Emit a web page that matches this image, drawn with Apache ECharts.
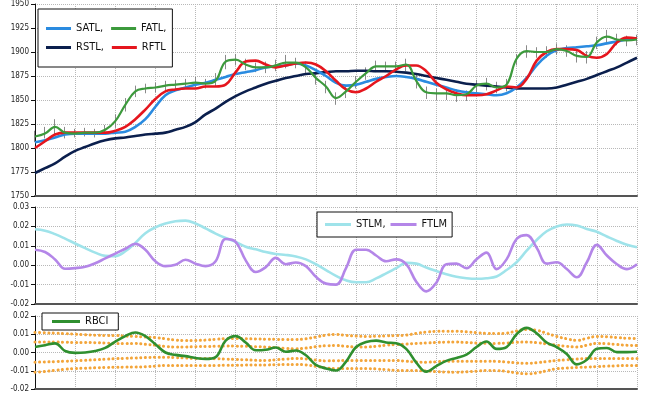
<!DOCTYPE html>
<html>
<head>
<meta charset="utf-8">
<script src="https://cdn.jsdelivr.net/npm/echarts@6/dist/echarts.min.js"></script>
<style>html,body{margin:0;padding:0;background:#fff}#c{width:650px;height:393px}</style>
</head>
<body>
<div id="c"></div>
<script>
// ---- data ----
const categories = Array.from({length: 61}, (_, i) => String(i + 1));

const rstl = [1774,1779,1784,1791,1797,1801,1805,1808,1810,1811,
  1812.5,1814,1815,1816,1819,1822,1827,1835,1841,1848,
  1854,1859,1863,1867,1870,1873,1875,1877,1878,1879,
  1880,1880,1880.5,1880.5,1880,1880,1879.5,1878.5,1877,1875,
  1873,1871,1869,1867,1866,1865,1864,1863,1862,1862,
  1862,1862,1863,1866,1869,1872,1876,1880,1884,1889,1894];
const satl = [1806,1808,1811,1814,1815,1815,1815,1815,1816,1817,
  1822,1830,1843,1855,1860,1863,1866,1868,1871,1874,
  1877,1879,1881,1884,1885,1886,1888,1886,1881,1875,
  1868,1865,1866,1869,1872,1874,1875,1874,1872,1869,
  1866,1863,1860,1858,1857,1856,1855,1857,1863,1873,
  1886,1896,1902,1904,1905,1906,1907,1909,1911,1913,1914];
const rftl = [1800,1807,1814,1816,1816,1816,1816,1816,1818,1822,
  1830,1840,1851,1859,1861,1862,1862,1864,1864,1866,
  1879,1890,1891,1887,1884,1886,1888,1889,1887,1880,
  1870,1861,1858,1862,1869,1875,1882,1886,1886,1880,
  1868,1861,1857,1855,1855,1856,1860,1864,1863,1872,
  1891,1900,1903,1903,1902,1896,1894,1898,1910,1915,1914];
const fatl = [1812,1815,1822,1816,1815,1816,1816,1819,1828,1845,
  1859,1862,1863,1865,1866,1867,1868,1867,1870,1890,
  1892,1887,1884,1884,1886,1889,1889,1884,1873,1864,
  1852,1859,1869,1878,1885,1885,1885,1887,1870,1858,
  1857,1857,1855,1856,1865,1867,1863,1866,1893,1901,
  1900,1900,1903,1901,1896,1895,1910,1916,1913,1912,1913];
const priceHigh = [1818,1822,1830,1822,1820,1821,1820,1824,1835,1852,
  1865,1867,1868,1870,1871,1872,1874,1872,1878,1897,
  1898,1893,1889,1890,1892,1897,1894,1890,1879,1870,
  1858,1865,1875,1884,1891,1890,1890,1893,1876,1864,
  1862,1863,1861,1860,1871,1873,1869,1872,1898,1907,
  1905,1906,1909,1907,1902,1901,1916,1923,1919,1917,1918];
const priceLow = [1806,1810,1814,1810,1811,1812,1811,1814,1821,1838,
  1853,1857,1858,1860,1861,1862,1863,1862,1864,1882,
  1886,1881,1879,1878,1880,1883,1883,1877,1866,1857,
  1845,1852,1862,1871,1879,1879,1878,1880,1862,1851,
  1850,1850,1848,1849,1858,1860,1857,1859,1886,1894,
  1894,1894,1897,1895,1889,1888,1903,1909,1907,1906,1907];

const stlm = [0.0185,0.0178,0.016,0.0137,0.0112,0.0088,0.0065,0.0048,0.0047,0.0072,
  0.0115,0.0165,0.0195,0.0215,0.0227,0.023,0.0215,0.019,0.0163,0.014,
  0.012,0.0095,0.0082,0.0068,0.0058,0.0053,0.0045,0.003,0.0005,-0.0025,
  -0.0055,-0.0078,-0.0088,-0.0088,-0.0068,-0.0042,-0.0015,0.0012,0.0008,-0.0012,
  -0.003,-0.0047,-0.006,-0.0067,-0.007,-0.0067,-0.0058,-0.0025,0.0015,0.0075,
  0.013,0.0175,0.02,0.021,0.0205,0.0187,0.0172,0.0148,0.0125,0.0105,0.0092];
const ftlm = [0.008,0.0068,0.003,-0.0018,-0.0015,-0.0008,0.001,0.0035,0.006,0.0085,
  0.011,0.008,0.002,-0.0005,0.0002,0.0028,0.0008,-0.0005,0.002,0.0135,
  0.012,0.0025,-0.0035,-0.001,0.0038,0.0005,0.0014,-0.0005,-0.006,-0.0095,
  -0.01,-0.0015,0.008,0.008,0.005,0.002,0.003,0.0005,-0.0085,-0.0135,
  -0.009,0.0005,0.0008,-0.0015,0.003,0.0065,-0.002,0.003,0.0135,0.0155,
  0.009,0.0008,0.0015,-0.002,-0.0062,0.0015,0.0105,0.005,0.0005,-0.002,0.0005];

const rbci = [0.003,0.004,0.005,0.0008,-0.0002,0,0.0008,0.0025,0.006,0.009,
  0.011,0.009,0.0045,0,-0.0013,-0.002,-0.003,-0.0035,-0.0025,0.0065,
  0.009,0.0055,0.0012,0.0015,0.0027,0.0004,0.0011,-0.0015,-0.0068,-0.0087,
  -0.0099,-0.005,0.003,0.0057,0.0065,0.0055,0.0051,0.002,-0.0055,-0.0105,
  -0.0075,-0.0046,-0.003,-0.0012,0.003,0.006,0.002,0.003,0.01,0.0135,
  0.0105,0.0055,0.003,-0.0008,-0.0065,-0.004,0.002,0.0025,0.0002,0.0002,0.0004];
const bandU2 = [0.011,0.0108,0.0106,0.0104,0.01,0.0097,0.0095,0.0093,0.0093,0.009,
  0.0088,0.0085,0.0082,0.0075,0.0068,0.0066,0.0066,0.0068,0.0072,0.0076,
  0.0077,0.0076,0.0074,0.0073,0.0072,0.0071,0.0071,0.0075,0.0085,0.0095,
  0.0099,0.0094,0.009,0.0088,0.0089,0.0091,0.0093,0.0095,0.0105,0.0112,
  0.0116,0.0117,0.0117,0.0113,0.0109,0.0105,0.0104,0.0106,0.0118,0.0126,
  0.0122,0.0105,0.0088,0.0075,0.0066,0.0078,0.0088,0.0086,0.0082,0.0078,0.0077];
const bandU1 = [0.0057,0.0057,0.0057,0.0056,0.0055,0.0055,0.0054,0.0052,0.005,0.005,
  0.005,0.0045,0.004,0.0033,0.003,0.003,0.0032,0.0033,0.0034,0.0036,
  0.0035,0.0034,0.0032,0.003,0.0026,0.0022,0.002,0.0024,0.0032,0.0037,
  0.0038,0.0034,0.003,0.003,0.0034,0.004,0.0044,0.0046,0.005,0.0052,
  0.0055,0.0057,0.0057,0.0055,0.0052,0.005,0.005,0.0052,0.0056,0.0057,
  0.0054,0.0047,0.004,0.0034,0.003,0.004,0.005,0.0048,0.0044,0.004,0.0038];
const bandL1 = [-0.0053,-0.0052,-0.005,-0.0048,-0.0045,-0.0043,-0.004,-0.0037,-0.0034,-0.0032,
  -0.003,-0.0028,-0.0026,-0.0026,-0.0028,-0.003,-0.0033,-0.0033,-0.0034,-0.0036,
  -0.0038,-0.004,-0.0043,-0.0044,-0.004,-0.0036,-0.0033,-0.0035,-0.0042,-0.0046,
  -0.0045,-0.0044,-0.0044,-0.0044,-0.0044,-0.0044,-0.0044,-0.0048,-0.0052,-0.0053,
  -0.0051,-0.0048,-0.0048,-0.0048,-0.0048,-0.0048,-0.0049,-0.0052,-0.0057,-0.0059,
  -0.0056,-0.005,-0.0044,-0.004,-0.0036,-0.0033,-0.0033,-0.0033,-0.0033,-0.0033,-0.0033];
const bandL2 = [-0.0108,-0.0104,-0.0098,-0.0092,-0.0088,-0.0086,-0.0084,-0.0082,-0.0081,-0.008,
  -0.008,-0.0078,-0.0075,-0.0071,-0.0071,-0.0071,-0.0071,-0.0071,-0.0071,-0.007,
  -0.007,-0.0069,-0.0068,-0.0068,-0.0067,-0.0066,-0.0066,-0.0068,-0.0076,-0.0085,
  -0.0088,-0.0088,-0.0088,-0.0088,-0.009,-0.0094,-0.0098,-0.0099,-0.0099,-0.0101,
  -0.0105,-0.0107,-0.0108,-0.0106,-0.0102,-0.0099,-0.0099,-0.0104,-0.0112,-0.0117,
  -0.0112,-0.01,-0.0089,-0.0085,-0.0082,-0.008,-0.0077,-0.0075,-0.0073,-0.0071,-0.0071];

// ---- chart ----
const FONT = 'DejaVu Sans Condensed';
const chart = echarts.init(document.getElementById('c'), null, {renderer: 'canvas'});

function xAx(gi) {
  return {
    type: 'category', gridIndex: gi, data: categories, boundaryGap: false,
    axisLine: {show: true, onZero: false, lineStyle: {color: '#555', width: 2}},
    axisTick: {show: false}, axisLabel: {show: false},
    splitLine: {show: true, interval: 3, lineStyle: {color: '#b8b8b8', type: 'dotted', width: 1}}
  };
}
function yAx(gi, min, max, interval, fmt) {
  return {
    type: 'value', gridIndex: gi, min: min, max: max, interval: interval,
    axisLine: {show: true, lineStyle: {color: '#111', width: 1}},
    axisTick: {show: true, length: 4, lineStyle: {color: '#111'}},
    axisLabel: {fontSize: 8, color: '#222', fontFamily: FONT, margin: 6, formatter: fmt},
    splitLine: {show: true, lineStyle: {color: '#b8b8b8', type: 'dotted', width: 1}}
  };
}
function line(name, data, color, xi, width, extra) {
  return Object.assign({
    name: name, type: 'line', xAxisIndex: xi, yAxisIndex: xi, data: data,
    smooth: 0.4, symbol: 'none', lineStyle: {color: color, width: width}, itemStyle: {color: color}
  }, extra || {});
}
const dotStyle = {color: '#f3a53a', width: 3, type: [0.1, 4.5], cap: 'round'};
function band(data) {
  return {type: 'line', xAxisIndex: 2, yAxisIndex: 2, data: data, smooth: 0.4, symbol: 'none',
    lineStyle: dotStyle, z: 1, silent: true};
}

const legendText = {fontSize: 11, color: '#111', fontFamily: FONT};

chart.setOption({
  animation: false,
  backgroundColor: '#fff',
  grid: [
    {left: 35, right: 13, top: 3, height: 193},
    {left: 35, right: 13, top: 207, height: 97},
    {left: 35, right: 13, top: 316, height: 73}
  ],
  xAxis: [xAx(0), xAx(1), xAx(2)],
  yAxis: [
    yAx(0, 1750, 1950, 25, v => String(Math.round(v))),
    yAx(1, -0.02, 0.03, 0.01, v => v.toFixed(2)),
    yAx(2, -0.02, 0.02, 0.01, v => v.toFixed(2))
  ],
  legend: [
    {data: ['SATL,', 'FATL,', 'RSTL,', 'RFTL'], left: 38, top: 9, width: 126,
     padding: [14, 6, 14, 8], itemGap: 8, itemWidth: 25, itemHeight: 3, icon: 'rect',
     backgroundColor: '#fff', borderColor: '#111', borderWidth: 1, borderRadius: 0, textStyle: legendText},
    {data: ['STLM,', 'FTLM'], left: 317, top: 212, padding: [7, 5, 7, 8], itemGap: 5,
     itemWidth: 26, itemHeight: 3, icon: 'rect',
     backgroundColor: '#fff', borderColor: '#111', borderWidth: 1, borderRadius: 0, textStyle: legendText},
    {data: ['RBCI'], left: 42, top: 313, padding: [3, 10, 3, 10], itemWidth: 28, itemHeight: 3, icon: 'rect',
     backgroundColor: '#fff', borderColor: '#111', borderWidth: 1, borderRadius: 0, textStyle: legendText}
  ],
  series: [
    {type: 'candlestick', xAxisIndex: 0, yAxisIndex: 0, silent: true, barMaxWidth: 1.2, z: 1,
     data: priceLow.map((l, i) => [l, priceHigh[i], l, priceHigh[i]]),
     itemStyle: {color: '#8a8a8a', color0: '#8a8a8a', borderColor: '#8a8a8a', borderColor0: '#8a8a8a', borderWidth: 1}},
    line('RSTL,', rstl, '#0b1f4d', 0, 2.6),
    line('SATL,', satl, '#2a8be0', 0, 2.6),
    line('RFTL', rftl, '#e5161e', 0, 2.6),
    line('FATL,', fatl, '#3c9a3c', 0, 2.2),
    line('STLM,', stlm, '#9fe3ea', 1, 2.6),
    line('FTLM', ftlm, '#b486e8', 1, 2.6),
    band(bandU2), band(bandU1), band(bandL1), band(bandL2),
    line('RBCI', rbci, '#2f8f2f', 2, 2.6, {z: 3})
  ]
});
</script>
</body>
</html>
